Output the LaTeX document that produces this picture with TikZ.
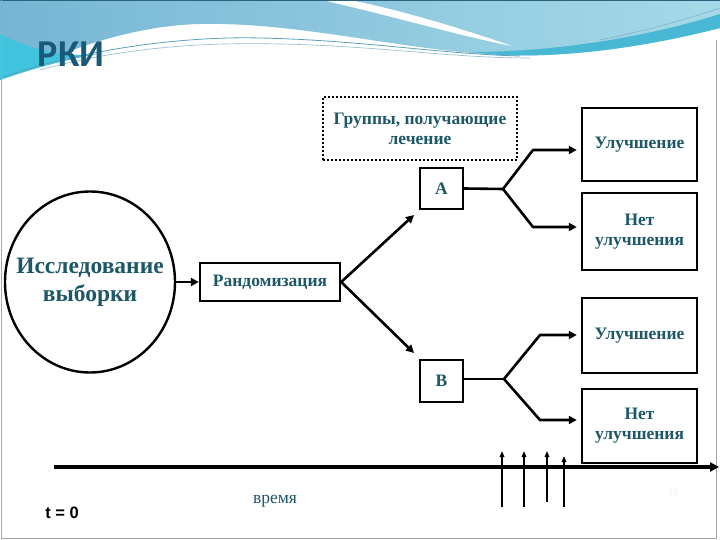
\documentclass[tikz,border=0pt]{standalone}
\usepackage{fontspec}
\setmainfont{Liberation Serif}
\newfontfamily\titlefont{Carlito}
\newfontfamily\arialfont{Liberation Sans}
\usetikzlibrary{arrows.meta,shapes.geometric,calc}
\definecolor{txtteal}{RGB}{28,88,104}
\definecolor{titleblue}{RGB}{26,90,120}
\definecolor{hdrleft}{RGB}{118,182,212}
\definecolor{hdrright}{RGB}{166,217,232}
\definecolor{hdrcyan}{RGB}{64,196,222}
\definecolor{hdrband}{RGB}{72,184,213}
\definecolor{hdrline}{RGB}{90,160,185}
\definecolor{hdrtop}{RGB}{40,100,125}
\tikzset{
  lbl/.style={text=txtteal, font=\fontsize{17.5}{20}\selectfont\bfseries, align=center, inner sep=0pt},
  boxnode/.style={lbl, draw=black, line width=2.4pt},
  conn/.style={line width=2.6pt, line join=round},
  arr/.style={conn, -{Triangle[length=8pt,width=8pt]}},
  tick/.style={line width=1.6pt, -{Triangle[length=6pt,width=4.5pt]}},
}
\begin{document}
\begin{tikzpicture}[x=1pt,y=-1pt]
\useasboundingbox (0,0) rectangle (720,540);
\fill[white] (0,0) rectangle (720,540);
% header
\shade[left color=hdrleft, right color=hdrright] (0,0) -- (720,0) -- (720,28) .. controls (650,46) and (570,58) .. (500,55) .. controls (400,50) and (300,22) .. (200,24) .. controls (120,26) and (50,58) .. (0,80) -- cycle;
\fill[hdrcyan] (0,34) .. controls (30,50) and (70,60) .. (110,52) .. controls (60,60) and (30,70) .. (0,80) -- cycle;
\fill[hdrband] (470,52) .. controls (560,52) and (650,36) .. (720,14) -- (720,28) .. controls (650,46) and (570,58) .. (500,55) -- cycle;
\fill[white] (322,0) .. controls (400,18) and (460,36) .. (512,46) .. controls (460,28) and (400,10) .. (350,0) -- cycle;
\draw[hdrline, line width=0.8pt] (0,78) .. controls (80,50) and (180,36) .. (260,38) .. controls (360,40) and (440,54) .. (520,56);
\draw[hdrline!70, line width=0.6pt] (40,70) .. controls (120,48) and (200,42) .. (280,44) .. controls (380,46) and (450,58) .. (530,58);
\draw[hdrline!80, line width=0.6pt] (600,40) .. controls (650,30) and (690,18) .. (720,8);
\fill[hdrtop] (0,0) rectangle (720,1.5);
\node[font=\titlefont\bfseries\fontsize{38}{42}\selectfont, text=titleblue, inner sep=0pt] (title) at (71,54) {РКИ};
% frame
\draw[gray!70, line width=0.8pt] (1,0) -- (1,538) -- (716,538) -- (716,40);
% nodes
\node[lbl, draw=black, line width=2pt, dotted, minimum width=194pt, minimum height=63pt] (grp) at (420,128.5) {Группы, получающие\\лечение};
\node[boxnode, minimum width=43pt, minimum height=41pt] (A) at (441.5,188.5) {A};
\node[boxnode, minimum width=115pt, minimum height=73pt] (impA) at (639.5,144.5) {Улучшение};
\node[boxnode, minimum width=115pt, minimum height=77pt] (noA) at (639.5,231.5) {Нет\\улучшения};
\node[draw=black, line width=2.4pt, ellipse, inner sep=0pt, minimum width=170pt, minimum height=181pt] (circ) at (90,282) {};
\node[lbl, font=\fontsize{23.5}{28}\selectfont\bfseries] (circtext) at (circ.center) {Исследование\\выборки};
\node[boxnode, minimum width=140pt, minimum height=38pt] (rand) at (270,282) {Рандомизация};
\node[boxnode, minimum width=43pt, minimum height=42pt] (B) at (441.5,381) {B};
\node[boxnode, minimum width=115pt, minimum height=75pt] (impB) at (639.5,335.5) {Улучшение};
\node[boxnode, minimum width=115pt, minimum height=74pt] (noB) at (639.5,426) {Нет\\улучшения};
% coordinates
\coordinate (toA) at (414,215);
\coordinate (toB) at (414,353);
\coordinate (brA) at (503,189);
\coordinate (eA1) at (533,150);
\coordinate (eA2) at (533,227);
\coordinate (brB) at (504,379);
\coordinate (eB1) at (540,335);
\coordinate (eB2) at (540,420);
% connectors
\draw[arr] (circ.east) -- (rand.west);
\draw[arr] (rand.east) -- (toA);
\draw[arr] (rand.east) -- (toB);
\draw[conn] (A.east) -- (brA);
\draw[arr, shorten >=4pt] (brA) -- (eA1) -- (eA1 -| impA.west);
\draw[arr, shorten >=4pt] (brA) -- (eA2) -- (eA2 -| noA.west);
\draw[conn] (B.east |- brB) -- (brB);
\draw[arr, shorten >=4pt] (brB) -- (eB1) -- (eB1 -| impB.west);
\draw[arr, shorten >=4pt] (brB) -- (eB2) -- (eB2 -| noB.west);
% timeline
\coordinate (t0) at (54,467);
\coordinate (tend) at (719,467);
\draw[line width=3.6pt, -{Triangle[length=9pt,width=9pt]}] (t0) -- (tend);
\coordinate (m1a) at (502,507); \coordinate (m1b) at (502,451);
\coordinate (m2a) at (524,507); \coordinate (m2b) at (524,451);
\coordinate (m3a) at (547,502); \coordinate (m3b) at (547,451);
\coordinate (m4a) at (564,507); \coordinate (m4b) at (564,456);
\draw[tick] (m1a) -- (m1b);
\draw[tick] (m2a) -- (m2b);
\draw[tick] (m3a) -- (m3b);
\draw[tick] (m4a) -- (m4b);
\node[font=\arialfont\bfseries\fontsize{16.5}{19}\selectfont, inner sep=0pt] (tzero) at (62,513) {t = 0};
\node[text=txtteal, font=\fontsize{17.5}{20}\selectfont, inner sep=0pt] (vremya) at (275,501) {время};
\node[text=gray!12, font=\fontsize{11}{13}\selectfont, inner sep=0pt] (pnum) at (673,492) {38};
\end{tikzpicture}
\end{document}
